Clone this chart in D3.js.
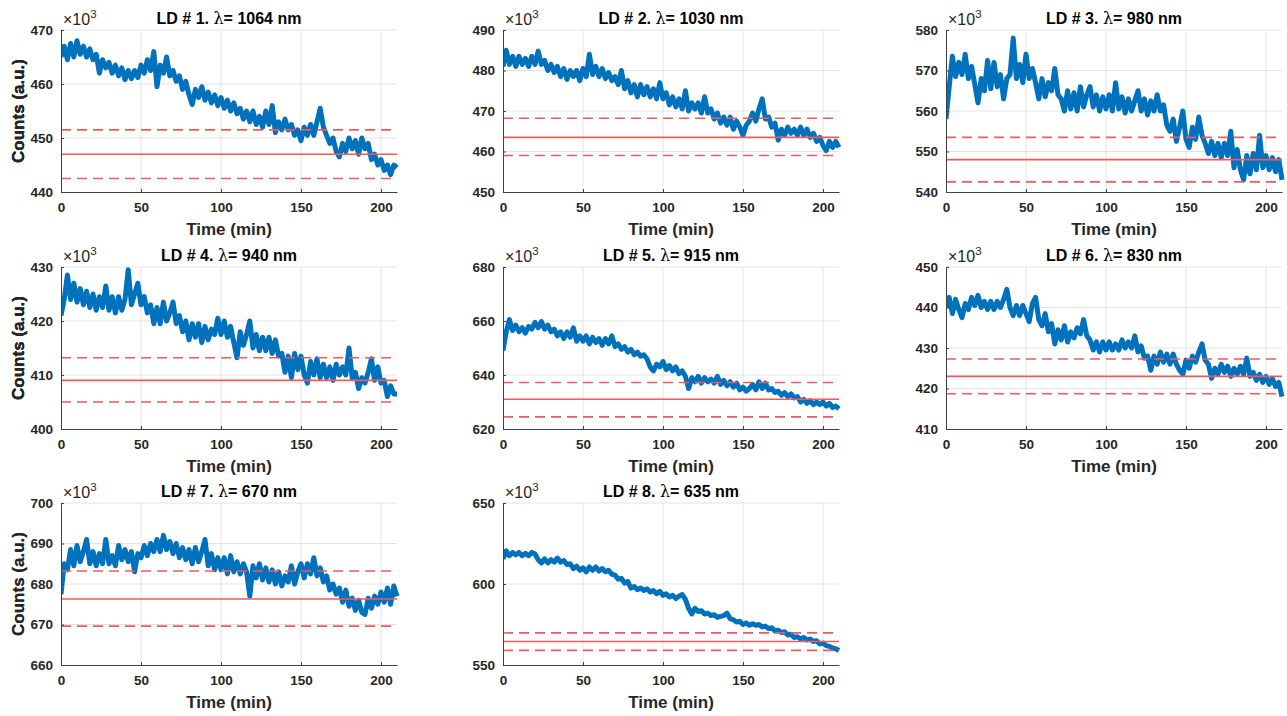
<!DOCTYPE html>
<html>
<head>
<meta charset="utf-8">
<script src="https://cdn.jsdelivr.net/npm/d3@7"></script>
<style>
  body { margin: 0; background: #fff; }
  svg { display: block; font-family: "Liberation Sans", Arial, sans-serif; }
  .tick text { font-size: 13.5px; font-weight: bold; fill: #262626; }
  .tick line { stroke: #404040; }
  .domain { stroke: #404040; }
</style>
</head>
<body>
<div id="chart"></div>
<script>
// sample times (min)
const time = [0,2,4,6,8,10,12,14,16,18,20,22,24,26,28,30,32,34,36,38,40,42,44,46,48,50,52,54,56,58,60,62,64,66,68,70,72,74,76,78,80,82,84,86,88,90,92,94,96,98,100,102,104,106,108,110,112,114,116,118,120,122,124,126,128,130,132,134,136,138,140,142,144,146,148,150,152,154,156,158,160,162,164,166,168,170,172,174,176,178,180,182,184,186,188,190,192,194,196,198,200,202,204,206,208,210];

const ldNumbers = [1, 2, 3, 4, 5, 6, 7, 8];
const wavelengths = [1064, 1030, 980, 940, 915, 830, 670, 635];
const yMin = [440, 450, 540, 400, 620, 410, 660, 550];
const yMax = [470, 490, 580, 430, 680, 450, 700, 650];
const yTickStep = [10, 10, 10, 10, 20, 10, 10, 50];
const xTicks = [0, 50, 100, 150, 200];

// red reference lines (x10^3 counts)
const meanLevel = [447, 463.5, 548, 409, 631, 423, 676.3, 564.5];
const upperLevel = [451.5, 468.2, 553.5, 413.2, 637.2, 427.3, 683.2, 569.8];
const lowerLevel = [442.5, 459, 542.5, 405, 624.5, 418.7, 669.6, 559];

// counts (x10^3)
const counts1 = [465,467,464.5,467.5,465,468,465.5,467,465,466.5,464.5,465.5,462,464.5,463,464,462,463.5,461.5,463,460.8,462.5,461,462.5,461.2,463.5,462,464.5,462.5,466,459.5,463.5,462,465,461.5,462.5,460.5,461.5,459,460.5,458,456.2,459,457.5,459.5,457,458.5,456.5,458,456,457.5,455.5,457,455,456.5,454.5,455.5,453.5,455,453,455,452.5,454,452,455,452.5,456,451,453,451.5,453.5,451.5,452.5,450.5,451.5,449.5,452,450.5,452.5,450.5,453,455.5,452,450.5,449,450,447.5,446.5,449,447.5,450,448,449.5,447,450,448,449,446,447,445,446,444,445,443.2,445,444.5];
const counts2 = [481,485,481.5,483.5,481,483.5,481.5,483,481,483.5,481.5,484.8,481.5,482.5,480,481.5,479.5,481,478.5,480.5,477.8,480,478.5,480,477.5,480.5,478.5,484,479,481,478.5,480.5,478,479.5,477.5,478.5,476.5,480,475.5,477.5,474.5,476.5,473.5,476.5,474,476,473.5,475.5,473,477,473,474.5,471.5,473.5,471,473,470.5,475,470,472,470.5,472,469.5,473.5,469.5,470.5,468,469.5,467,468.5,466.5,468.5,465.5,467.5,466,464,466.5,467.5,469.5,467.5,470.5,473,468,468.5,466,467,462.8,465.5,464,466,464.5,465.5,464,466,464,465.5,463.5,464.5,462.5,463.5,461.5,460.2,462.5,461,462.5,461];
const counts3 = [558,566,573.5,568.5,572,569,574,568,571,566.5,562,568,565,572.5,565.5,572,566,569,563,568,569,578,568,571.5,567,574,568,570.5,567,563,568,563.5,567,565,570.5,564,563,560,565,560.5,564.5,560,566,561,564,566,561,564,560,563.5,560.5,564,560,567,560.5,563.5,559.5,563,560,562.5,565,560,563,559,562.5,560,564,560,561.5,556.5,555,558,552.5,556,560,553,551,556,553,558.5,554,552,549.5,552.5,549,552,548.5,552,549,555,546,550.5,545.5,543,549,544.5,549.5,545.5,554,546,549,545.5,548.5,545,548,543];
const counts4 = [421,424,428.5,424,427,423.5,426,423,425.5,422.5,425,422,424.5,422.5,426.5,422,424.5,421.5,424.5,422,424,429.5,423,425,427,423,424.5,421.5,423,419.5,422.5,419.5,423.5,420,421.5,423.5,419.5,421,418,420,416.5,419.5,417,419.5,416,419,416.5,418.5,417.5,420.5,417.5,420,417,419,416,413.2,418,415.5,417.5,420,415,417.5,414.5,417,414.5,417,414,416.5,413.5,414,410.5,413.5,409.5,414,411,413.5,410,408.5,412.5,410,413,409.5,412,409.5,411.5,409,412,410,411.5,410,415,409.5,410.5,407.5,409.5,408.5,410.5,413,409,411.5,408.5,409,406,408,406.5,406.5];
const counts5 = [649,656,660.5,656.5,658.5,656,657.5,655.5,658,657,659.5,657.5,659.8,657,658.5,656,657,654.5,656,653.5,656,654,657.5,652.5,654.5,652.5,654.5,651.5,654,652,653.5,651,653.5,651.5,654.5,650.5,651.5,649.5,650.5,648.5,649.5,647.5,648.5,647,647.5,646,643,641.5,644,643,645,642,643.5,641.5,643,640.5,641.5,639.5,635,639,637.5,639.5,637,639,637.5,638.5,637,639.5,636.5,638,636,637.5,635.5,637,634.5,635.5,634,635,636.5,634.5,637.5,635,637,634.5,635,633.5,634,632.5,633.5,632,633,631.5,632,630,631,629.5,630.5,629,630,629,630,628.5,629.5,628,628.5,627.5];
const counts6 = [440,442.5,438.5,442,439.5,437.5,441,439.5,442.5,440.5,443,440,441.5,439.5,441.5,439.5,441.5,440,442,444.5,440,438,440.5,438,440.5,438.5,436.5,441,442.5,437,435.5,438.5,434,436,431,434.5,432,435.5,431.5,434,432.5,435,433.5,437,433,432,429.5,431.5,429,431.5,429.5,431.5,429.5,431,429.5,432,430,431.5,430,433,429,430.5,427.5,428,424.5,428,426,429,426.5,428.5,426,428.5,426,424.5,423.5,427,425,428,426.5,429,431,427,426,422.5,425,423.5,426,424,425.5,423,425,423.5,425.5,423.5,427.5,423,424,422,423.5,421.5,423,421,422.5,420.5,421.5,418];
const counts7 = [677.5,685,683.5,688.5,684.5,689.5,685.5,688,691,685,688,684.5,687.5,685,691,685,687,684.5,689.5,686,688.5,685.5,688,683,687.5,686.5,689.5,687,690,688,691,688,692,688.5,690.5,687.5,690,686.5,689,686,688.5,685,689,685.5,688,691,684.5,687.5,683.5,686.5,683.5,686.5,682.5,687,683,685.5,682.5,685,683,677,684.5,681.5,685,681,684,680.5,683.5,680,683,679.5,682,680.5,684.5,680,683,685,681.5,685,682.5,686.5,682,684,680.5,682,678.5,680,677.5,679,675.5,678.5,674.5,676.5,673.5,676,673,672.5,676.5,674,677,675,678,675.5,679,675,679.5,677];
const counts8 = [615.5,620.5,617.5,619.5,618,619.5,617.5,619,617.5,619.5,618.5,615,613,615.5,613,615,613.5,616,613.5,614.5,612,612.5,609.5,611,608.5,610,607.5,610.5,608.5,610.5,608,609.5,607.5,608.5,606,605.5,603,603.5,600.5,601.5,597.5,598.5,596.5,597.5,596,597,595,596,594,595.5,593,594,592,593,591,592.5,593.5,590.5,585,581.5,585,583,583.5,581.5,582,580.5,581,579.5,580,580.5,582,578.5,578,576.5,577,575,576,574.5,575.5,574.5,575,573.5,574,572.5,573,571,571.5,570,570.5,568.5,569,567,567.5,566,567,565.5,566,564.5,565,563,563.5,562,561.5,560.5,560,559];

const allCounts = [counts1, counts2, counts3, counts4, counts5, counts6, counts7, counts8];

// layout of the 3x3 grid (last cell empty)
const colLeft = [61, 503, 946];
const rowTop = [30, 267, 503];
const plotW = 336;
const plotH = 162;

const svg = d3.select("#chart").append("svg")
  .attr("width", 1287)
  .attr("height", 716);

ldNumbers.forEach(function(ld, i) {
  let left = colLeft[i % 3];
  let top = rowTop[Math.floor(i / 3)];

  let x = d3.scaleLinear().domain([0, 210]).range([0, plotW]);
  let y = d3.scaleLinear().domain([yMin[i], yMax[i]]).range([plotH, 0]);
  let yTicks = d3.range(yMin[i], yMax[i] + 1, yTickStep[i]);

  let g = svg.append("g").attr("transform", `translate(${left}, ${top})`);

  // grid
  g.append("g").selectAll("line")
    .data(xTicks.slice(1))
    .enter().append("line")
    .attr("x1", d => x(d)).attr("x2", d => x(d))
    .attr("y1", 0).attr("y2", plotH)
    .attr("stroke", "#e3e3e3").attr("stroke-width", 1);
  g.append("g").selectAll("line")
    .data(yTicks.slice(1))
    .enter().append("line")
    .attr("x1", 0).attr("x2", plotW)
    .attr("y1", d => y(d)).attr("y2", d => y(d))
    .attr("stroke", "#e3e3e3").attr("stroke-width", 1);

  let clipId = "clip" + ld;
  g.append("clipPath").attr("id", clipId)
    .append("rect").attr("x", 0).attr("y", -3).attr("width", plotW + 3).attr("height", plotH + 3);

  let line = d3.line()
    .x((d, j) => x(time[j]))
    .y(d => y(d));

  g.append("path")
    .datum(allCounts[i])
    .attr("clip-path", `url(#${clipId})`)
    .attr("fill", "none")
    .attr("stroke", "#0072BD")
    .attr("stroke-width", 5)
    .attr("stroke-linejoin", "round")
    .attr("d", line);

  // reference levels
  let refs = [
    { v: upperLevel[i], dash: "10,6" },
    { v: meanLevel[i], dash: null },
    { v: lowerLevel[i], dash: "10,6" }
  ];
  g.append("g").selectAll("line")
    .data(refs)
    .enter().append("line")
    .attr("x1", 0).attr("x2", plotW)
    .attr("y1", d => y(d.v)).attr("y2", d => y(d.v))
    .attr("stroke", "#f25a5a")
    .attr("stroke-width", 1.6)
    .attr("stroke-dasharray", d => d.dash);

  // axes
  g.append("g")
    .attr("transform", `translate(0, ${plotH})`)
    .call(d3.axisBottom(x).tickValues(xTicks).tickSizeInner(-3).tickSizeOuter(0).tickPadding(10).tickFormat(d3.format("d")));
  g.append("g")
    .call(d3.axisLeft(y).tickValues(yTicks).tickSizeInner(-3).tickSizeOuter(0).tickPadding(8).tickFormat(d3.format("d")));

  // x10^3 exponent
  let expo = g.append("text")
    .attr("x", 2).attr("y", -5)
    .attr("font-size", 16).attr("fill", "#262626");
  expo.append("tspan").text("\u00d710");
  expo.append("tspan").attr("font-size", 11.5).attr("dy", -7).text("3");

  // title
  let title = g.append("text")
    .attr("x", plotW / 2).attr("y", -6)
    .attr("text-anchor", "middle")
    .attr("font-size", 16).attr("font-weight", "bold").attr("fill", "#000");
  title.append("tspan").text(`LD # ${ld}. `);
  title.append("tspan").attr("font-weight", "normal").attr("font-family", "'DejaVu Serif', serif").text("\u03bb");
  title.append("tspan").text(`= ${wavelengths[i]} nm`);

  // axis labels
  g.append("text")
    .attr("x", plotW / 2).attr("y", plotH + 43)
    .attr("text-anchor", "middle")
    .attr("font-size", 17).attr("font-weight", "bold").attr("fill", "#262626")
    .text("Time (min)");
  g.append("text")
    .attr("transform", `translate(${-left + 24}, ${plotH / 2}) rotate(-90)`)
    .attr("text-anchor", "middle")
    .attr("font-size", 17).attr("font-weight", "bold").attr("fill", "#262626")
    .text("Counts (a.u.)");
});
</script>
</body>
</html>
